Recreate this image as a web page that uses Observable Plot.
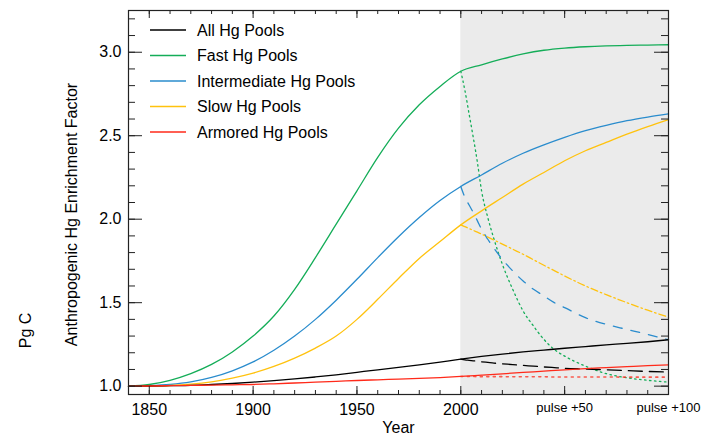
<!DOCTYPE html>
<html>
<head>
<meta charset="utf-8">
<script src="https://cdn.jsdelivr.net/npm/d3@7"></script>
<script src="https://cdn.jsdelivr.net/npm/@observablehq/plot@0.6"></script>
<style>
  html, body { margin: 0; padding: 0; background: #fff; }
  #wrap { position: relative; width: 705px; height: 438px; font-family: "Liberation Sans", Arial, Helvetica, sans-serif; }
  #legend { position: absolute; left: 0; top: 0; pointer-events: none; }
</style>
</head>
<body>
<div id="wrap"><div id="chart"></div><svg id="legend" width="705" height="160"></svg></div>
<script>
// ---- data ----
const years = [1840,1850,1860,1870,1880,1890,1900,1910,1920,1930,1940,1950,1960,1970,1980,1990,2000,2010,2020,2030,2040,2050,2060,2070,2080,2090,2100];
const allPools          = [1.000,1.001,1.003,1.005,1.010,1.016,1.024,1.033,1.043,1.055,1.068,1.083,1.098,1.112,1.127,1.144,1.162,1.178,1.192,1.205,1.216,1.227,1.237,1.247,1.256,1.266,1.278];
const fastPools         = [1.000,1.010,1.035,1.075,1.130,1.205,1.300,1.420,1.580,1.770,1.970,2.170,2.370,2.545,2.685,2.795,2.886,2.925,2.960,2.990,3.012,3.025,3.033,3.038,3.041,3.043,3.045];
const intermediatePools = [1.000,1.003,1.010,1.025,1.052,1.092,1.145,1.215,1.300,1.400,1.515,1.640,1.770,1.895,2.010,2.112,2.196,2.265,2.335,2.395,2.445,2.490,2.530,2.562,2.590,2.612,2.631];
const slowPools         = [1.000,1.001,1.004,1.012,1.026,1.048,1.078,1.118,1.168,1.228,1.300,1.400,1.520,1.645,1.765,1.866,1.966,2.050,2.130,2.210,2.280,2.350,2.410,2.460,2.510,2.555,2.597];
const armoredPools      = [1.000,1.001,1.003,1.005,1.006,1.008,1.010,1.014,1.019,1.024,1.029,1.034,1.038,1.042,1.046,1.051,1.058,1.066,1.074,1.082,1.090,1.098,1.105,1.111,1.117,1.123,1.128];

const pulseYears = [2000,2002,2004,2006,2008,2010,2013,2016,2020,2025,2030,2035,2040,2045,2050,2060,2070,2080,2090,2100];
const allPulse          = [1.162,1.158,1.155,1.152,1.149,1.146,1.142,1.138,1.134,1.129,1.124,1.120,1.115,1.111,1.107,1.103,1.098,1.093,1.088,1.084];
const fastPulse         = [2.886,2.770,2.630,2.490,2.340,2.170,2.010,1.880,1.730,1.580,1.450,1.360,1.280,1.220,1.180,1.120,1.075,1.050,1.035,1.024];
const intermediatePulse = [2.196,2.130,2.085,2.040,1.990,1.940,1.880,1.825,1.760,1.690,1.630,1.580,1.540,1.500,1.470,1.410,1.370,1.340,1.310,1.278];
const slowPulse         = [1.966,1.955,1.944,1.933,1.922,1.911,1.893,1.875,1.851,1.820,1.790,1.757,1.724,1.692,1.660,1.600,1.548,1.500,1.455,1.413];
const armoredPulse      = [1.058,1.058,1.058,1.058,1.057,1.057,1.057,1.057,1.057,1.056,1.056,1.056,1.056,1.055,1.055,1.055,1.055,1.054,1.054,1.054];

const seriesNames  = ["All Hg Pools","Fast Hg Pools","Intermediate Hg Pools","Slow Hg Pools","Armored Hg Pools"];
const seriesColors = ["#000000","#14ad58","#2a8ccd","#ffc20e","#ff2a1a"];
const pulseDashes  = ["14,7","1.5,3.5","9,9","7,3,1.5,3","2,4.5"];

const xDomain = [1840, 2100];
const yDomain = [0.95, 3.25];
const pulseStart = 2000;
const xMajorTicks = [1850, 1900, 1950, 2000];
const xPulseTicks = [2050, 2100];
const xPulseLabels = ["pulse +50", "pulse +100"];
const xMinorTicks = d3.range(1840, 2101, 10);
const xBigTicks = [1850, 1900, 1950, 2000, 2050, 2100];
const yMajorTicks = [1.0, 1.5, 2.0, 2.5, 3.0];
const yMinorTicks = d3.range(10, 33).map(d => d / 10);
const xTitle = "Year";
const yTitle = "Anthropogenic Hg Enrichment Factor";
const yTitle2 = "Pg C";

// ---- build tables ----
const solidSeries = [allPools, fastPools, intermediatePools, slowPools, armoredPools];
const pulseSeries = [allPulse, fastPulse, intermediatePulse, slowPulse, armoredPulse];
const solidRows = solidSeries.flatMap((vals, i) => years.map((y, j) => ({year: y, value: vals[j], s: i})));
const pulseRows = pulseSeries.flatMap((vals, i) => pulseYears.map((y, j) => ({year: y, value: vals[j], s: i})));

const W = 705, H = 438, mL = 128, mR = 37, mT = 10, mB = 44;
const frameW = W - mL - mR, frameH = H - mT - mB;
const tickColor = "#222";

const marks = [
  Plot.rect([{x1: pulseStart, x2: xDomain[1]}], {x1: "x1", x2: "x2", y1: () => yDomain[0], y2: () => yDomain[1], fill: "#ebebeb"}),
];
// pulse curves (drawn below solid)
[1, 2, 3, 0, 4].forEach(i => {
  marks.push(Plot.line(pulseRows.filter(d => d.s === i), {
    x: "year", y: "value", stroke: seriesColors[i], strokeWidth: i === 4 ? 1.6 : 1.3,
    strokeDasharray: pulseDashes[i], strokeOpacity: i === 4 ? 0.75 : 1, curve: "monotone-x"
  }));
});
[1, 2, 3, 0, 4].forEach(i => {
  marks.push(Plot.line(solidRows.filter(d => d.s === i), {
    x: "year", y: "value", stroke: seriesColors[i], strokeWidth: 1.3, curve: "monotone-x"
  }));
});
// ticks (inward, all four sides)
marks.push(
  Plot.ruleX(xMinorTicks, {x: d => d, insetTop: frameH - 4, stroke: tickColor}),
  Plot.ruleX(xBigTicks, {x: d => d, insetTop: frameH - 8, stroke: tickColor}),
  Plot.ruleX(xMinorTicks, {x: d => d, insetBottom: frameH - 4, stroke: tickColor}),
  Plot.ruleX(xBigTicks, {x: d => d, insetBottom: frameH - 8, stroke: tickColor}),
  Plot.ruleY(yMinorTicks, {y: d => d, insetRight: frameW - 7, stroke: tickColor}),
  Plot.ruleY(yMajorTicks, {y: d => d, insetRight: frameW - 14, stroke: tickColor}),
  Plot.ruleY(yMinorTicks, {y: d => d, insetLeft: frameW - 7, stroke: tickColor}),
  Plot.ruleY(yMajorTicks, {y: d => d, insetLeft: frameW - 14, stroke: tickColor}),
  Plot.frame({stroke: tickColor, strokeWidth: 1.2}),
  Plot.axisX(xMajorTicks, {tickSize: 0, tickPadding: 9, fontSize: 16, tickFormat: d => String(d), label: null}),
  Plot.axisX(xPulseTicks, {tickSize: 0, tickPadding: 8, fontSize: 13, tickFormat: d => xPulseLabels[xPulseTicks.indexOf(d)], label: null}),
  Plot.axisY(yMajorTicks, {tickSize: 0, tickPadding: 7, fontSize: 16, tickFormat: d => d.toFixed(1), label: null}),
  Plot.text([xTitle], {frameAnchor: "bottom", dy: 38, fontSize: 16, text: d => d}),
  Plot.text([yTitle], {frameAnchor: "left", textAnchor: "middle", dx: -57, dy: 12, rotate: -90, fontSize: 16, text: d => d}),
  Plot.text([yTitle2], {frameAnchor: "left", textAnchor: "middle", dx: -103, dy: 128, rotate: -90, fontSize: 16, text: d => d})
);

const chart = Plot.plot({
  width: W, height: H,
  marginLeft: mL, marginRight: mR, marginTop: mT, marginBottom: mB,
  style: {fontFamily: '"Liberation Sans", Arial, Helvetica, sans-serif', background: "white", color: "black"},
  x: {domain: xDomain, label: null},
  y: {domain: yDomain, label: null},
  marks
});
document.getElementById("chart").appendChild(chart);

// ---- legend overlay ----
const lg = d3.select("#legend");
seriesNames.forEach((name, i) => {
  const cy = 30 + i * 25.5;
  lg.append("line").attr("x1", 150).attr("x2", 186).attr("y1", cy).attr("y2", cy)
    .attr("stroke", seriesColors[i]).attr("stroke-width", 1.3);
  lg.append("text").attr("x", 197).attr("y", cy).attr("dy", "0.35em")
    .attr("font-size", 16).attr("fill", "black")
    .attr("font-family", '"Liberation Sans", Arial, Helvetica, sans-serif').text(name);
});
</script>
</body>
</html>
